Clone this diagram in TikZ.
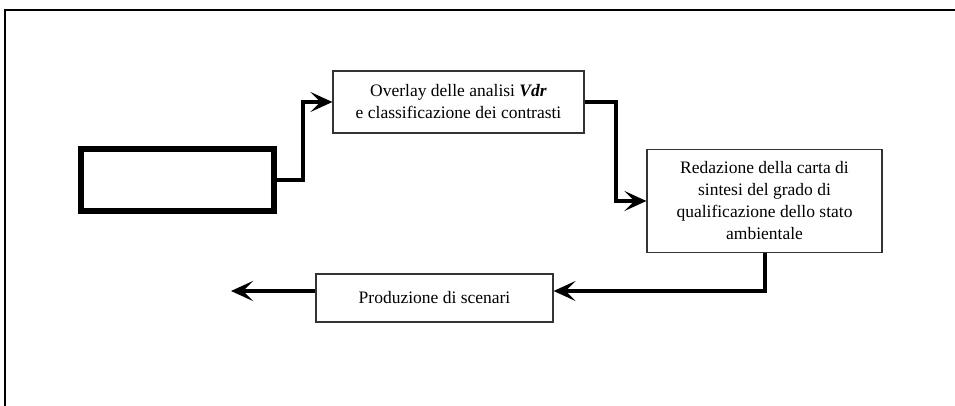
\documentclass[tikz,border=0pt]{standalone}
\usepackage{fontspec}
\setmainfont{Liberation Serif}
\usetikzlibrary{arrows.meta}
\begin{document}
\begin{tikzpicture}[x=1pt,y=-1pt,>={Stealth[length=22pt,width=20pt,inset=10pt]},
		font=\fontsize{17.5}{22}\selectfont, line join=miter,
		box/.style={draw=black!80,line width=1.2pt,align=center,inner sep=0pt},
		conn/.style={->,line width=4pt}]
	\useasboundingbox (0,0) rectangle (955,406);
	\draw[line width=2pt] (5,406)--(5,10)--(955,10); % cornice
	\node[draw,line width=6pt,minimum width=193pt,minimum height=62pt] (vuoto) at (177.5,180) {};
	\node[box,minimum width=251pt,minimum height=62pt] (overlay) at (458.5,102) {Overlay delle analisi \textbf{\textit{Vdr}}\\e classificazione dei contrasti};
	\node[box,minimum width=235pt,minimum height=103pt] (carta) at (764.5,201) {Redazione della carta di\\sintesi del grado di\\qualificazione dello stato\\ambientale};
	\node[box,minimum width=237pt,minimum height=48pt] (scenari) at (434.5,298) {Produzione di scenari};
	\coordinate (fine) at (231,291);
	\draw[conn] (vuoto.east)--++(26,0) |- (overlay.west);
	\draw[conn] (overlay.east)--++(31,0) |- (carta.west);
	\draw[conn] (carta.south) |- ([yshift=7pt]scenari.east);
	\draw[conn] ([yshift=7pt]scenari.west)--(fine);
\end{tikzpicture}
\end{document}
